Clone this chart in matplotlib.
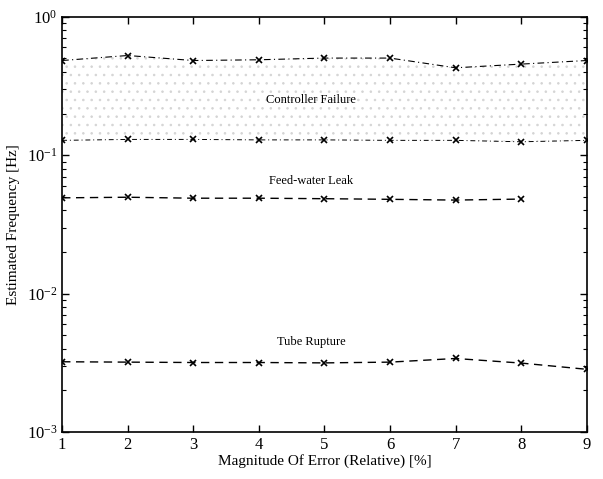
import matplotlib
matplotlib.use("Agg")
import matplotlib.pyplot as plt
import numpy as np
from matplotlib.ticker import LogLocator, NullFormatter

plt.rcParams['font.family'] = ['Liberation Serif', 'DejaVu Serif']
plt.rcParams['mathtext.fontset'] = 'custom'
plt.rcParams['mathtext.rm'] = 'Liberation Serif'
plt.rcParams['mathtext.it'] = 'Liberation Serif:italic'
plt.rcParams['hatch.linewidth'] = 0.6

x_err = [1, 2, 3, 4, 5, 6, 7, 8, 9]
ctrl_upper = [0.483, 0.525, 0.483, 0.489, 0.503, 0.503, 0.428, 0.455, 0.483]
ctrl_lower = [0.128, 0.130, 0.130, 0.129, 0.129, 0.128, 0.128, 0.125, 0.128]
x_feed = [1, 2, 3, 4, 5, 6, 7, 8]
feed_leak = [0.0492, 0.0497, 0.0489, 0.0489, 0.0485, 0.0480, 0.0474, 0.0482]
tube_rupture = [0.00322, 0.00320, 0.00318, 0.00318, 0.00316, 0.00320, 0.00340, 0.00315, 0.00284]

labels = {"Controller Failure": 0.25, "Feed-water Leak": 0.065, "Tube Rupture": 0.0045}

fig = plt.figure(figsize=(6.03, 4.79), dpi=100)
ax = fig.add_axes([0.103, 0.098, 0.870, 0.867])

ax.fill_between(x_err, ctrl_lower, ctrl_upper, facecolor='none', edgecolor='#d4d4d4',
                hatch='..', linewidth=0)
ax.plot(x_err, ctrl_upper, color='black', linestyle=(0, (6, 3, 1, 3)), linewidth=0.8,
        marker='x', markersize=4, markeredgewidth=1.2)
ax.plot(x_err, ctrl_lower, color='black', linestyle=(0, (5, 3, 1, 3)), linewidth=0.7,
        marker='x', markersize=4, markeredgewidth=1.2)
ax.plot(x_feed, feed_leak, color='black', linestyle=(0, (6, 4)), linewidth=1.0,
        marker='x', markersize=4, markeredgewidth=1.2)
ax.plot(x_err, tube_rupture, color='black', linestyle=(0, (6, 4)), linewidth=1.0,
        marker='x', markersize=4, markeredgewidth=1.2)

for txt, yv in labels.items():
    ax.text(4.8, yv, txt, ha='center', va='center', fontsize=9)

ax.set_yscale('log')
ax.set_xlim(1, 9)
ax.set_ylim(1e-3, 1)
ax.set_xticks(x_err)
ax.yaxis.set_major_locator(LogLocator(base=10, numticks=10))
ax.yaxis.set_minor_locator(LogLocator(base=10, subs=np.arange(2, 10), numticks=20))
ax.yaxis.set_minor_formatter(NullFormatter())
ax.tick_params(which='both', direction='in', top=True, right=True, labelsize=12)
ax.tick_params(which='major', length=5, width=1)
ax.tick_params(which='minor', length=3, width=0.8)
for s in ax.spines.values():
    s.set_linewidth(1.2)

ax.set_xlabel('Magnitude Of Error (Relative) [%]', fontsize=11, labelpad=1)
ax.set_ylabel('Estimated Frequency [Hz]', fontsize=11, labelpad=5)

fig.savefig('out.png', dpi=100)
